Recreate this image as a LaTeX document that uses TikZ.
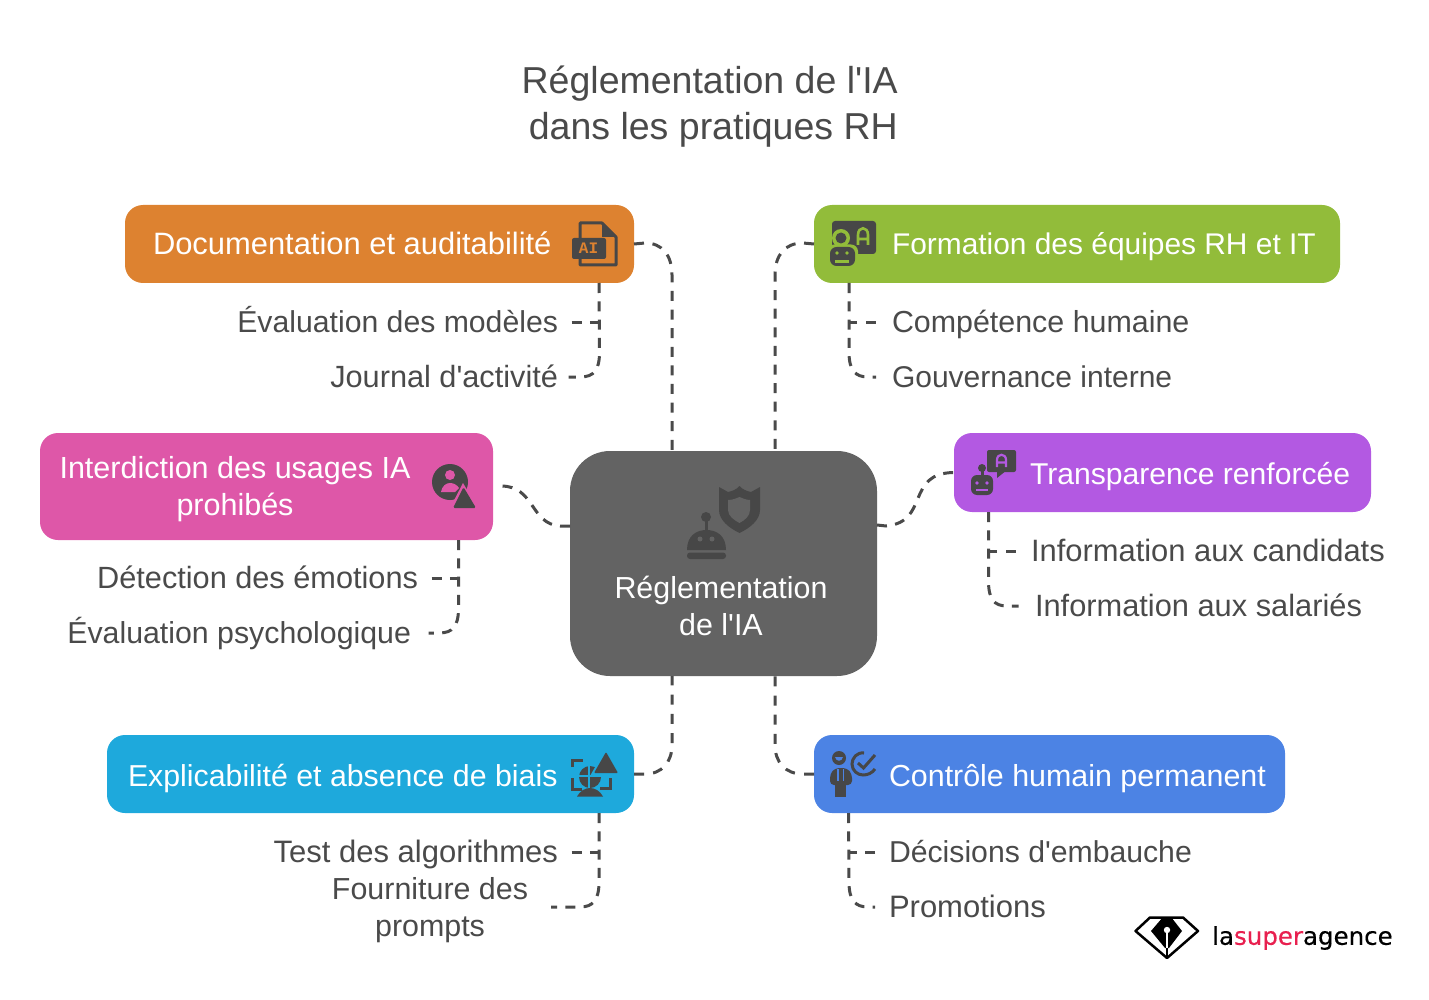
\documentclass[tikz,border=0pt]{standalone}
\usepackage{fontspec}
\setmainfont{Liberation Sans}[Ligatures=TeXOff]
\setmonofont{Liberation Mono}
\newfontfamily\logofont{DejaVu Sans}[Ligatures=TeXOff,FakeBold=0.4]
\usetikzlibrary{calc}
\definecolor{ink}{HTML}{4A4A4A}
\definecolor{icon}{HTML}{474747}
\definecolor{cdoc}{HTML}{DD8230}
\definecolor{cform}{HTML}{92BC3A}
\definecolor{cinter}{HTML}{DE57A8}
\definecolor{ctrans}{HTML}{B359E2}
\definecolor{cexpl}{HTML}{1EA9DC}
\definecolor{cctrl}{HTML}{4C83E4}
\definecolor{ccenter}{HTML}{636363}
\definecolor{lsred}{HTML}{E8204F}
\tikzset{
  x=1pt,y=-1pt,
  fs/.style={font=\fontsize{#1}{37}\selectfont},
  boxnode/.style={rounded corners=18pt,inner sep=0pt,outer sep=0pt,minimum width=#1},
  boxtext/.style={text=white,inner sep=0pt,outer sep=0pt,text height=22pt,text depth=0pt},
  boxlines/.style={text=white,inner sep=0pt,outer sep=0pt,align=center},
  leaf/.style={text=ink,inner sep=0pt,outer sep=0pt,text height=21.4pt,text depth=0pt},
  leaflines/.style={text=ink,inner sep=0pt,outer sep=0pt,align=center},
  link/.style={draw=ink,line width=3pt,dash pattern=on 10pt off 8.3pt},
  longlink/.style={draw=ink,line width=3pt,dash pattern=on 10pt off 8.6pt},
  lowlink/.style={draw=ink,line width=3pt,dash pattern=on 10pt off 9.2pt},
}
\begin{document}
\begin{tikzpicture}
\useasboundingbox (0,0) rectangle (1429,1000);
% boxes
\node[boxnode=509pt,fill=cdoc,minimum height=78pt] (doc) at (379.5,244) {};
\node[boxnode=526pt,fill=cform,minimum height=78pt] (form) at (1077,244) {};
\node[boxnode=453pt,fill=cinter,minimum height=107pt] (inter) at (266.5,486.5) {};
\node[boxnode=417pt,fill=ctrans,minimum height=79pt] (trans) at (1162.5,472.5) {};
\node[boxnode=527pt,fill=cexpl,minimum height=78pt] (expl) at (370.5,774) {};
\node[boxnode=471pt,fill=cctrl,minimum height=78pt] (ctrl) at (1049.5,774) {};
\node[boxnode=307pt,fill=ccenter,minimum height=225pt,rounded corners=40pt] (center) at (723.5,563.5) {};
% title
\node[inner sep=0pt,text=ink,align=right,anchor=east,font=\fontsize{37.5}{46}\selectfont] (title) at (898,107) {Réglementation de l'IA\\dans les pratiques RH};
% box texts
\node[boxtext,fs=30.9,anchor=west] (doct) at (153,244) {Documentation et auditabilité};
\node[boxtext,fs=29.9,anchor=west] (formt) at (892,244) {Formation des équipes RH et IT};
\node[boxlines,fs=30.5] (intert) at (235,489) {Interdiction des usages IA\\prohibés};
\node[boxtext,fs=30.1,anchor=west] (transt) at (1030,473) {Transparence renforcée};
\node[boxtext,fs=30.3,anchor=west] (explt) at (128,775) {Explicabilité et absence de biais};
\node[boxtext,fs=30.4,anchor=west] (ctrlt) at (889,775) {Contrôle humain permanent};
\node[boxlines,fs=30.4] (centert) at (721,605.5) {Réglementation\\de l'IA};
% leaves
\node[leaf,fs=30.2,anchor=east] (l1) at (558,322) {Évaluation des modèles};
\node[leaf,fs=30.7,anchor=east] (l2) at (558,377) {Journal d'activité};
\node[leaf,fs=30.4,anchor=west] (r1) at (892,322) {Compétence humaine};
\node[leaf,fs=30,anchor=west] (r2) at (892,377) {Gouvernance interne};
\node[leaf,fs=30.7,anchor=east] (i1) at (418,578) {Détection des émotions};
\node[leaf,fs=30.3,anchor=east] (i2) at (411,633) {Évaluation psychologique};
\node[leaf,fs=30.9,anchor=west] (t1) at (1031,551) {Information aux candidats};
\node[leaf,fs=30.8,anchor=west] (t2) at (1035,606) {Information aux salariés};
\node[leaf,fs=31,anchor=east] (e1) at (558,852) {Test des algorithmes};
\node[leaflines,fs=30.4] (e2) at (430,910) {Fourniture des\\prompts};
\node[leaf,fs=30.2,anchor=west] (c1) at (889,852) {Décisions d'embauche};
\node[leaf,fs=31,anchor=west] (c2) at (889,907) {Promotions};
% junctions of the sub links
\coordinate (jdoc) at (599.5,322);
\coordinate (jform) at (849,322);
\coordinate (jinter) at (458.5,578);
\coordinate (jtrans) at (988.5,551);
\coordinate (jexpl) at (599,852);
\coordinate (jctrl) at (849,852);
% main links
\draw[longlink] (doc.east) -- (645,243) .. controls (662,243) and (672,255) .. (672,275) -- ([xshift=-51.5pt]center.north);
\draw[longlink] (form.west) -- (803,243) .. controls (785,243) and (775,255) .. (775,275) -- ([xshift=51.5pt]center.north);
\draw[link] ([yshift=37.5pt]center.west) -- (560,526) .. controls (530,524) and (535,486) .. ([xshift=8pt,yshift=0.5pt]inter.east);
\draw[link] ([yshift=38.5pt]center.east) -- (886,526) .. controls (930,522) and (905,473) .. (trans.west);
\draw[lowlink] (expl.east) -- (645,774) .. controls (662,774) and (672,762) .. (672,745) -- ([xshift=-51.5pt]center.south);
\draw[lowlink] (ctrl.west) -- (803,774) .. controls (785,774) and (775,762) .. (775,745) -- ([xshift=51.5pt]center.south);
% sub links
\draw[link] ([xshift=13.5pt]l1.east) -- (jdoc);
\draw[link] ([xshift=219.5pt]doc.south) -- (599.5,352) .. controls (599.5,370) and (594,377) .. (580,377) -- ([xshift=10.5pt]l2.east);
\draw[link] ([xshift=-16.5pt]r1.west) -- (jform);
\draw[link] ([xshift=-228pt]form.south) -- (849,352) .. controls (849,370) and (855,377) .. (868,377) -- ([xshift=-16pt]r2.west);
\draw[link] ([xshift=13.5pt]i1.east) -- (jinter);
\draw[link] ([xshift=192pt]inter.south) -- (458.5,608) .. controls (458.5,626) and (453,633) .. (439,633) -- ([xshift=17.5pt]i2.east);
\draw[link] ([xshift=-15.5pt]t1.west) -- (jtrans);
\draw[link] ([xshift=-174pt]trans.south) -- (988.5,581) .. controls (988.5,599) and (994,606) .. (1007,606) -- ([xshift=-16.5pt]t2.west);
\draw[link] ([xshift=13.5pt]e1.east) -- (jexpl);
\draw[link] ([xshift=228.5pt]expl.south) -- (599,882) .. controls (599,900) and (593,907) .. (580,907) -- ([xshift=23pt,yshift=3pt]e2.east);
\draw[link] ([xshift=-14pt]c1.west) -- (jctrl);
\draw[link] ([xshift=-201pt]ctrl.south) -- (849,882) .. controls (849,900) and (855,907) .. (868,907) -- ([xshift=-14pt]c2.west);
% icon: central robot + shield
\fill[icon] (719,487) -- (728,492) .. controls (733,491) and (737,489) .. (739.5,486) .. controls (742,489) and (746,491) .. (751,492) -- (760,487) -- (760,510) .. controls (760,520) and (750,528) .. (739.5,533) .. controls (729,528) and (719,520) .. (719,510) -- cycle;
\fill[ccenter] (728,500) .. controls (733,500) and (737,498) .. (739.5,497) .. controls (742,498) and (746,500) .. (750,500) -- (750,510) .. controls (750,516) and (745,520) .. (739.5,523) .. controls (734,520) and (728,516) .. (728,510) -- cycle;
\fill[icon] (706,517) circle (5);
\fill[icon] (704.5,520) rectangle (707.5,532);
\fill[icon] (687,550) .. controls (687,536) and (696,530) .. (706.5,530) .. controls (717,530) and (726,536) .. (726,550) -- cycle;
\fill[icon,rounded corners=3pt] (687,552.5) rectangle (726,559);
\fill[ccenter] (700,539) circle (2.5) (712,539) circle (2.5);
% icon: doc
\draw[icon,line width=3pt,line join=round] (580,240) -- (580,223) -- (602,223) -- (616,237) -- (616,265) -- (580,265) -- (580,259);
\fill[icon] (602,223) -- (602,237) -- (616,237) -- cycle;
\fill[icon,rounded corners=2pt] (572,238) rectangle (606,259);
\node[inner sep=0pt,text=cdoc,font=\fontsize{16}{16}\selectfont\bfseries\ttfamily] (ai) at (588.5,248.5) {AI};
% icon: form
\fill[icon,rounded corners=3pt] (832,221) rectangle (876,254);
\draw[cform,line width=2.6pt] (858,245) -- (858,235) .. controls (858,226) and (868,226) .. (868,235) -- (868,245) (858,239) -- (868,239);
\fill[cform] (841,238) circle (9);
\fill[icon] (841,238) circle (5.5);
\fill[cform,rounded corners=7pt] (827,244.5) rectangle (858,268);
\fill[icon,rounded corners=6.5pt] (830,247) rectangle (855,266);
\fill[cform] (837,253) circle (1.8) (847,253) circle (1.8);
\fill[cform] (835,260) rectangle (849,263);
% icon: inter
\fill[icon] (450,482) circle (18);
\fill[cinter] (450,475) circle (5);
\fill[cinter] (441,492) .. controls (442,486) and (446,483) .. (450,483) .. controls (454,483) and (457,485) .. (459,488) -- (455,492) -- cycle;
\fill[cinter] (463,483) -- (480,512) -- (448,512) -- cycle;
\fill[icon,rounded corners=1.5pt] (463.5,487) -- (476,508) -- (453,508) -- cycle;
% icon: trans
\fill[icon,rounded corners=2pt] (987,450) rectangle (1016,472);
\fill[icon] (997,470) -- (997,478) -- (1007,470) -- cycle;
\draw[ctrans,line width=2.2pt] (997,467) -- (997,460) .. controls (997,453) and (1006,453) .. (1006,460) -- (1006,467) (997,462.5) -- (1006,462.5);
\fill[icon] (982,468) circle (4);
\fill[icon] (980.5,469) rectangle (983.5,476);
\fill[icon,rounded corners=6pt] (971,475) rectangle (993,495);
\fill[ctrans] (977,483) circle (1.8) (987,483) circle (1.8);
\fill[ctrans] (976,488.5) rectangle (988,490.5);
% icon: expl
\draw[icon,line width=3pt] (572,767) -- (572,760.5) -- (583,760.5) (572,778) -- (572,789) -- (582,789) (610,778) -- (610,788) -- (600,788);
\fill[icon] (590,777) circle (11);
\draw[cexpl,line width=1.5pt] (589,765) -- (589,789) (578,776) -- (602,776);
\fill[cexpl] (606,748) -- (622,776) -- (590,776) -- cycle;
\fill[icon,rounded corners=1pt] (606,752) -- (618,773) -- (594,773) -- cycle;
\fill[icon] (577,796.5) .. controls (580,791) and (585,788) .. (590,788) .. controls (595,788) and (600,791) .. (603,796.5) -- cycle;
% icon: ctrl
\fill[icon] (839,758) circle (7);
\fill[cctrl] (835,757) .. controls (836,762) and (842,762) .. (843,757) -- cycle;
\fill[icon,rounded corners=4pt] (830,785) -- (830,774) -- (835,768) -- (847,768) -- (852,774) -- (852,785) -- cycle;
\fill[icon] (835,780) rectangle (846,797);
\draw[cctrl,line width=1.2pt] (838,769) -- (838,781) (843.5,769) -- (843.5,781);
\draw[icon,line width=3pt] (864,753) .. controls (857,752) and (852,758) .. (852,764) .. controls (852,771) and (858,775) .. (863,775) .. controls (868,775) and (872,773) .. (875,769);
\draw[icon,line width=3pt] (858,763) -- (863.5,768) -- (875,755);
% logo
\draw[black,line width=2.5pt,line join=round] (1135.5,931) -- (1150,917.5) -- (1183,917.5) -- (1198,931) -- (1167,958) -- cycle;
\fill[black] (1151,931) -- (1163,917) -- (1171,917) -- (1182,931) -- (1169,948) -- (1165,948) -- cycle;
\fill[white] (1167,930) circle (3.2);
\draw[white,line width=1.2pt] (1167,930) -- (1167,950);
\draw[black,line width=1.2pt] (1167,948) -- (1167,958);
\node[anchor=west,inner sep=0pt,font=\logofont\fontsize{24.5}{26}\selectfont,text=black] (logo) at (1212,938) {la{\color{lsred}super}agence};
\end{tikzpicture}
\end{document}
